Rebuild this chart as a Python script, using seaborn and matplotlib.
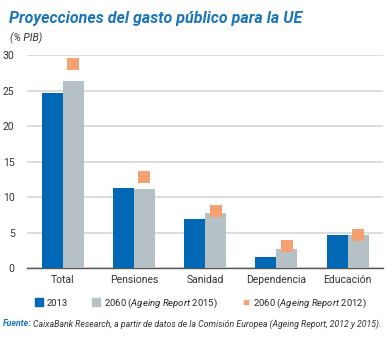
import matplotlib
matplotlib.use("Agg")
import matplotlib.pyplot as plt
from matplotlib.lines import Line2D
import numpy as np
import pandas as pd
import seaborn as sns

categories = ["Total", "Pensiones", "Sanidad", "Dependencia", "Educación"]
v2013 = [24.6, 11.3, 6.9, 1.6, 4.7]
v2060_2015 = [26.4, 11.1, 7.8, 2.7, 4.7]
v2060_2012 = [28.7, 12.8, 8.1, 3.1, 4.6]
yticks = [0, 5, 10, 15, 20, 25, 30]

series_names = ["2013", "2060 (Ageing Report 2015)"]
blue = "#0068B4"
gray = "#B5C1C5"
orange = "#F4A071"

df = pd.DataFrame({
    "cat": categories * 2,
    "val": v2013 + v2060_2015,
    "serie": [series_names[0]] * len(categories) + [series_names[1]] * len(categories),
})

sns.set_style("white")
plt.rcParams["font.family"] = ["Roboto", "DejaVu Sans"]
plt.rcParams["mathtext.fontset"] = "custom"
plt.rcParams["mathtext.it"] = "Roboto:italic"
plt.rcParams["mathtext.rm"] = "Roboto"

fig = plt.figure(figsize=(3.87, 3.38), dpi=100)
ax = fig.add_axes([0.07, 0.207, 0.92, 0.63])

width = 0.59
sns.barplot(data=df, x="cat", y="val", hue="serie", palette=[blue, gray],
            width=width, dodge=True, ax=ax, legend=False, saturation=1,
            linewidth=0, zorder=3)

xs = np.arange(len(categories)) + width / 4
ax.scatter(xs, v2060_2012, marker="s", s=75, color=orange, zorder=5,
           clip_on=False, linewidths=0)

ax.set_ylim(0, 30)
ax.set_xlim(-0.5, len(categories) - 0.5)
ax.set_yticks(yticks)
ax.set_yticklabels([str(t) for t in yticks])
ax.yaxis.grid(True, color="#DADADA", linewidth=1.3, zorder=0)
ax.set_axisbelow(True)
ax.set_xlabel("")
ax.set_ylabel("")
for s in ["top", "right", "left"]:
    ax.spines[s].set_visible(False)
ax.spines["bottom"].set_color("#555555")
ax.spines["bottom"].set_linewidth(1.0)
ax.tick_params(axis="y", length=0, labelsize=7.5, pad=9, colors="#333333")
ax.tick_params(axis="x", which="major", length=0, labelsize=7.5, pad=5, colors="#333333")
ax.set_xticks(np.arange(len(categories) + 1) - 0.5, minor=True)
ax.tick_params(axis="x", which="minor", length=3, width=0.8, color="#555555", direction="out")

fig.text(0.022, 0.945, "Proyecciones del gasto público para la UE", fontsize=11.5,
         fontweight="bold", fontstyle="italic", color="#1B75BB", ha="left", va="center")
fig.text(0.025, 0.888, "(% PIB)", fontsize=7.5, fontstyle="italic", color="#333333",
         ha="left", va="center")

handles = [
    Line2D([], [], marker="s", linestyle="none", markersize=5.5, color=blue),
    Line2D([], [], marker="s", linestyle="none", markersize=5.5, color=gray),
    Line2D([], [], marker="s", linestyle="none", markersize=3.2, color=orange),
]
labels = ["2013", "2060 ($\\it{Ageing\\ Report}$ 2015)", "2060 ($\\it{Ageing\\ Report}$ 2012)"]
fig.legend(handles, labels, loc="center", bbox_to_anchor=(0.52, 0.103), ncol=3,
           frameon=False, fontsize=6.8, handlelength=0.8, handletextpad=0.4,
           columnspacing=2.6)

t1 = fig.text(0.008, 0.042, "Fuente:", fontsize=6.3, fontweight="bold", fontstyle="italic",
              color="#1B75BB", ha="left", va="center")
fig.canvas.draw()
bb = t1.get_window_extent().transformed(fig.transFigure.inverted())
fig.text(bb.x1 + 0.004, 0.042,
         "CaixaBank Research, a partir de datos de la Comisión Europea (Ageing Report, 2012 y 2015).",
         fontsize=6.3, fontstyle="italic", color="#333333", ha="left", va="center")

fig.savefig("out.png", dpi=100)
